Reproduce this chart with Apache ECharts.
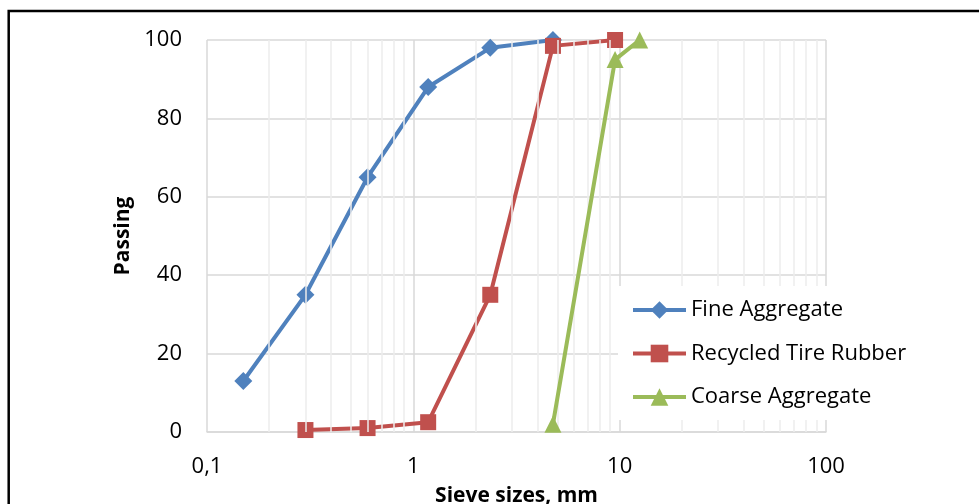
<!DOCTYPE html>
<html>
<head>
<meta charset="utf-8">
<script src="https://cdn.jsdelivr.net/npm/echarts@6/dist/echarts.min.js"></script>
<style>
html,body{margin:0;padding:0;background:#fff;}
#chart{width:979px;height:504px;}
</style>
</head>
<body>
<div id="chart"></div>
<script>
// Sieve sizes (mm) and % passing
var sieveFine = [0.15, 0.3, 0.6, 1.18, 2.36, 4.75];
var passFine = [13, 35, 65, 88, 98, 100];
var sieveRubber = [0.3, 0.6, 1.18, 2.36, 4.75, 9.5];
var passRubber = [0.5, 1, 2.5, 35, 98.5, 100];
var sieveCoarse = [4.75, 9.5, 12.5];
var passCoarse = [2, 95, 100];
var seriesNames = ['Fine Aggregate', 'Recycled Tire Rubber', 'Coarse Aggregate'];
// minor log gridline values
var minorTicks = [0.2,0.3,0.4,0.5,0.6,0.7,0.8,0.9,2,3,4,5,6,7,8,9,20,30,40,50,60,70,80,90];

function pairs(xs, ys){ return xs.map(function(x,i){ return [x, ys[i]]; }); }

var FONT = 'Open Sans';
var chart = echarts.init(document.getElementById('chart'), null, {renderer:'canvas'});
chart.setOption({
  animation: false,
  backgroundColor: '#fff',
  textStyle: {fontFamily: FONT},
  graphic: [{
    type: 'rect', silent: true, z: 100,
    shape: {x: 8.7, y: 11, width: 1200, height: 800},
    style: {fill: 'none', stroke: '#000', lineWidth: 2.5}
  }],
  grid: {left: 207, top: 40, width: 619, height: 392, containLabel: false, outerBoundsMode: 'none'},
  legend: {
    orient: 'vertical',
    left: 618, top: 286,
    backgroundColor: '#fff',
    padding: [12, 14, 11, 13],
    itemGap: 19.5,
    itemWidth: 53, itemHeight: 22,
    lineStyle: {width: 4},
    textStyle: {fontFamily: FONT, fontSize: 22, color: '#000', lineHeight: 24},
    data: seriesNames,
    z: 10
  },
  xAxis: {
    type: 'log', logBase: 10, min: 0.1, max: 100,
    name: 'Sieve sizes, mm', nameLocation: 'middle', nameGap: 54,
    nameTextStyle: {fontFamily: FONT, fontSize: 21, fontWeight: 'bold', color: '#000'},
    axisLine: {show: true, lineStyle: {color: '#d9d9d9', width: 1.5}},
    axisTick: {show: false},
    axisLabel: {fontFamily: FONT, fontSize: 22, color: '#000', margin: 24,
      formatter: function(v){ return String(v).replace('.', ','); }},
    splitLine: {show: true, lineStyle: {color: '#d9d9d9', width: 1.5}}
  },
  yAxis: {
    type: 'value', min: 0, max: 100, interval: 20,
    name: 'Passing', nameLocation: 'middle', nameGap: 72,
    nameTextStyle: {fontFamily: FONT, fontSize: 21, fontWeight: 'bold', color: '#000'},
    axisLine: {show: false},
    axisTick: {show: false},
    axisLabel: {fontFamily: FONT, fontSize: 22, color: '#000', margin: 25},
    splitLine: {show: true, lineStyle: {color: '#d9d9d9', width: 1.5}}
  },
  series: [
    {
      name: '_minor', type: 'line', data: [], z: 0, silent: true,
      markLine: {
        silent: true, symbol: 'none', label: {show: false}, animation: false,
        lineStyle: {color: '#ececec', width: 1.5, type: 'solid'},
        emphasis: {disabled: true},
        data: minorTicks.map(function(v){ return {xAxis: v}; })
      }
    },
    {
      name: seriesNames[0], type: 'line', data: pairs(sieveFine, passFine),
      symbol: 'diamond', symbolSize: 18, z: 3,
      lineStyle: {color: '#4f81bd', width: 4},
      itemStyle: {color: '#4f81bd'}
    },
    {
      name: seriesNames[1], type: 'line', data: pairs(sieveRubber, passRubber),
      symbol: 'rect', symbolSize: 16, z: 4,
      lineStyle: {color: '#c0504d', width: 4},
      itemStyle: {color: '#c0504d'}
    },
    {
      name: seriesNames[2], type: 'line', data: pairs(sieveCoarse, passCoarse),
      symbol: 'triangle', symbolSize: 17, z: 5,
      lineStyle: {color: '#9bbb59', width: 4},
      itemStyle: {color: '#9bbb59'}
    }
  ]
});
</script>
</body>
</html>
